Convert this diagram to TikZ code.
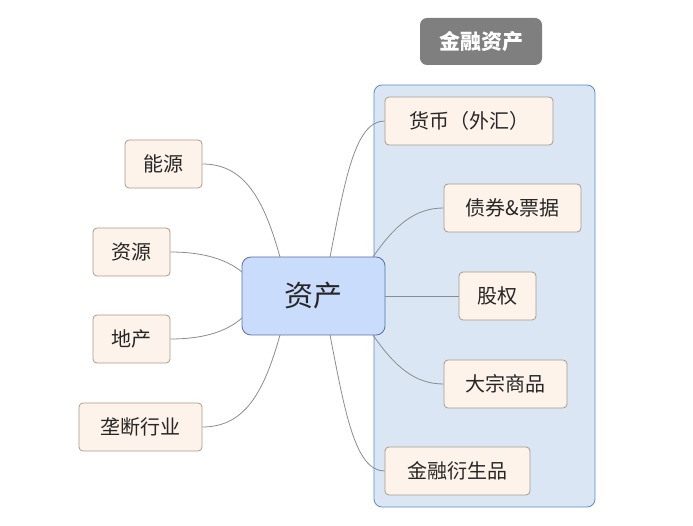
\documentclass[tikz,border=0pt]{standalone}
\usepackage{fontspec}
\newfontfamily\cjk{Noto Sans CJK SC}
\definecolor{leaffill}{HTML}{FEF3EA}
\definecolor{leafdraw}{HTML}{A89A8E}
\definecolor{boxfill}{HTML}{DAE6F4}
\definecolor{boxdraw}{HTML}{5C8ACB}
\definecolor{centerfill}{HTML}{C9DCFB}
\definecolor{centerdraw}{HTML}{5872A8}
\definecolor{titlefill}{HTML}{7F7F7F}
\definecolor{linkcol}{HTML}{8C8C8C}
\definecolor{textcol}{HTML}{262626}
\tikzset{
  leaf/.style={draw=leafdraw, fill=leaffill, rounded corners=4pt, line width=0.8pt,
    minimum height=48pt, inner sep=0pt, text=textcol,
    font=\cjk\fontsize{20}{20}\selectfont},
  link/.style={draw=linkcol, line width=0.8pt},
}
\begin{document}
\begin{tikzpicture}[x=1pt,y=-1pt]
\useasboundingbox (0,0) rectangle (693,526);
% container
\node[draw=boxdraw, fill=boxfill, rounded corners=8pt, line width=0.8pt,
  minimum width=221pt, minimum height=422pt, inner sep=0pt] (grp) at (484.5,296) {};
% title
\node[fill=titlefill, rounded corners=7pt, minimum width=122pt, minimum height=47pt,
  inner sep=0pt, text=white, font=\cjk\bfseries\fontsize{21}{21}\selectfont] (title) at (481,41.5) {金融资产};
% center
\node[draw=centerdraw, fill=centerfill, rounded corners=9pt, line width=0.8pt,
  minimum width=143pt, minimum height=78pt, inner sep=0pt, text=textcol,
  font=\cjk\fontsize{29}{29}\selectfont] (c) at (313.5,296) {资产};
% left leaves
\node[leaf, minimum width=77pt] (ny) at (163.5,164) {能源};
\node[leaf, minimum width=77pt] (zy) at (131.5,252) {资源};
\node[leaf, minimum width=77pt] (dc) at (131.5,339) {地产};
\node[leaf, minimum width=123pt] (ld) at (140.5,427) {垄断行业};
% right leaves
\node[leaf, minimum width=168pt] (hb) at (469,121) {货币（外汇）};
\node[leaf, minimum width=137pt] (zq) at (512.5,208) {债券\&票据};
\node[leaf, minimum width=77pt] (gq) at (497.5,296) {股权};
\node[leaf, minimum width=123pt] (dz) at (505.5,384) {大宗商品};
\node[leaf, minimum width=145pt] (js) at (457.5,471) {金融衍生品};
% connectors
\coordinate (cTL) at (280,257);
\coordinate (cTR) at (330,257);
\coordinate (cBL) at (280,335);
\coordinate (cBR) at (330,335);
\coordinate (cRT) at (373,257);
\coordinate (cRB) at (373,335);
\coordinate (cLT) at (242,272);
\coordinate (cLB) at (242,318);
\draw[link] (cTL) .. controls (264,200) and (245,164) .. (ny.east);
\draw[link] (cLT) .. controls (225,258) and (200,252) .. (zy.east);
\draw[link] (cLB) .. controls (225,333) and (200,339) .. (dc.east);
\draw[link] (cBL) .. controls (264,392) and (245,427) .. (ld.east);
\draw[link] (cTR) .. controls (345,180) and (355,121) .. (hb.west);
\draw[link] (cRT) .. controls (395,225) and (415,208) .. (zq.west);
\draw[link] (c.east) -- (gq.west);
\draw[link] (cRB) .. controls (395,367) and (415,384) .. (dz.west);
\draw[link] (cBR) .. controls (345,412) and (355,471) .. (js.west);
\end{tikzpicture}
\end{document}
